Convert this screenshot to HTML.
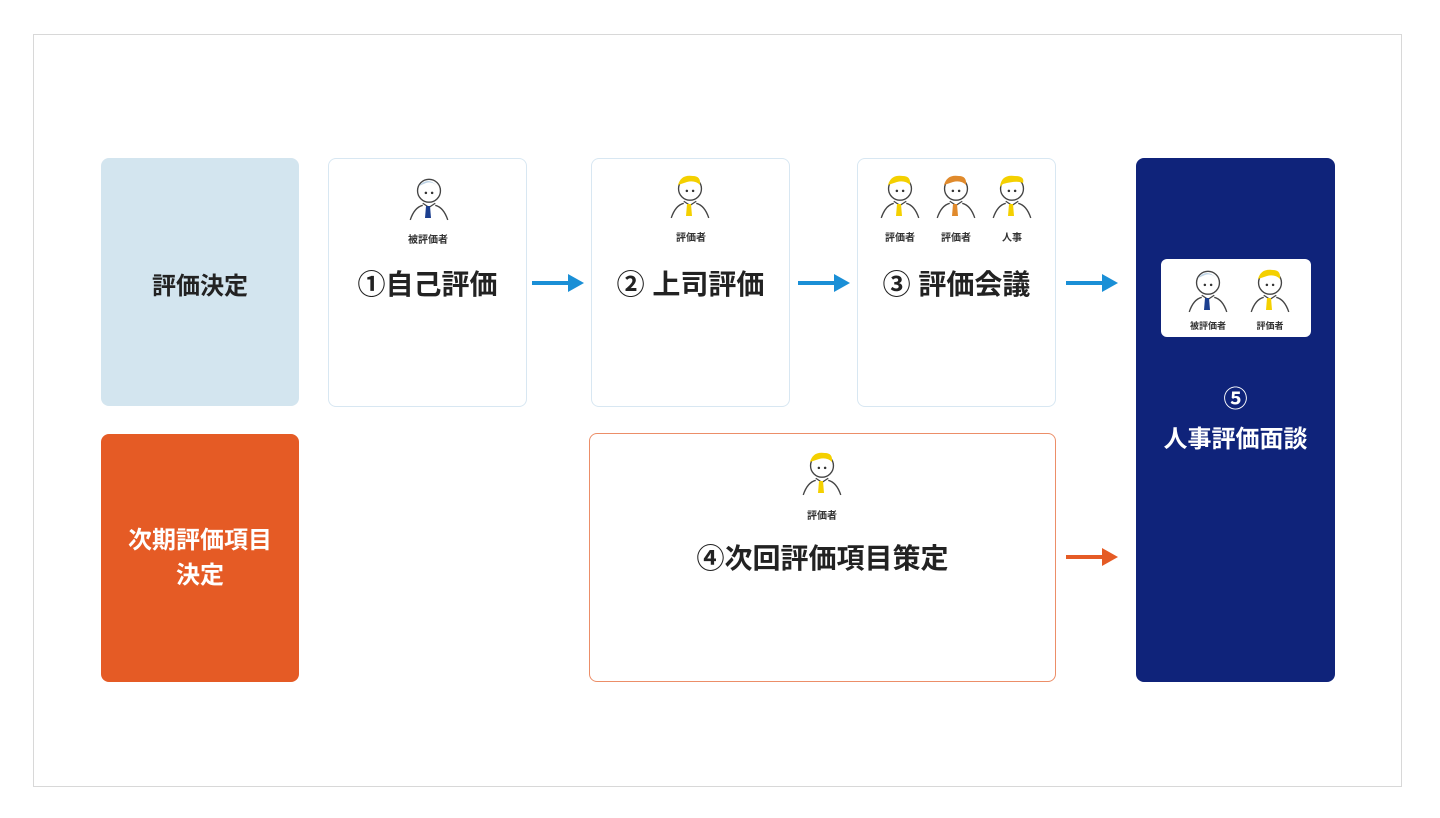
<!DOCTYPE html>
<html><head><meta charset="utf-8"><style>
body{margin:0;width:1440px;height:818px;background:#fff;position:relative;font-family:"Liberation Sans","Noto Sans CJK JP",sans-serif;overflow:hidden}
.a{position:absolute;box-sizing:border-box}
.frame{left:33px;top:34px;width:1369px;height:753px;border:1.5px solid #d8d8d8}
.box{border-radius:8px}
.wb{border:1.5px solid #d8e7f2;background:#fff}
.t{position:absolute;left:0;right:0;text-align:center;font-weight:bold;color:#222;font-size:28px}
.lbl{position:absolute;text-align:center;font-size:10px;font-weight:bold;color:#333;width:60px}
svg.p{position:absolute;width:46px;height:50px}
</style></head><body>
<svg width="0" height="0" style="position:absolute">
<defs>
<symbol id="man" viewBox="0 0 44 48">
<path d="M4 46 Q8 34 16 32 M40 46 Q36 34 28 32" fill="none" stroke="#444" stroke-width="1.3"/>
<circle cx="22" cy="18" r="11" fill="#fff" stroke="#444" stroke-width="1.3"/>
<circle cx="19" cy="20" r="1.2" fill="#333"/><circle cx="25" cy="20" r="1.2" fill="#333"/>
<path d="M16 30 L22 34 L28 30" fill="none" stroke="#444" stroke-width="1.2"/>
</symbol>
</defs></svg>
<div class="a frame"></div>

<div class="a box" style="left:101px;top:158px;width:198px;height:248px;background:#d3e5ef"><div class="t" style="top:108px;font-size:24px">評価決定</div></div>
<div class="a box" style="left:101px;top:434px;width:198px;height:248px;background:#e55b25"><div class="t" style="top:89px;font-size:24px;color:#fff;line-height:35px">次期評価項目<br>決定</div></div>

<div class="a box wb" style="left:328px;top:158px;width:199px;height:249px"><div class="t" style="top:104px">①自己評価</div>
<svg class="p" style="left:77px;top:13px"><use href="#man"/><path d="M13 14 Q22 4 31 14 Q26 9 20 11 Z" fill="#bcd3e6"/><path d="M20 34 L24 34 L25 46 L19 46 Z" fill="#1c3f8f"/></svg>
<div class="lbl" style="left:69px;top:72px">被評価者</div></div>

<div class="a box wb" style="left:591px;top:158px;width:199px;height:249px"><div class="t" style="top:104px">② 上司評価</div>
<svg class="p" style="left:75px;top:11px"><use href="#man"/><path d="M11 15 Q14 4 26 6 Q34 6 33 15 Q28 10 20 12 Z" fill="#f4d000"/><path d="M20 34 L24 34 L25 46 L19 46 Z" fill="#f4d000"/></svg>
<div class="lbl" style="left:69px;top:70px">評価者</div></div>

<div class="a box wb" style="left:857px;top:158px;width:199px;height:249px"><div class="t" style="top:104px">③ 評価会議</div>
<svg class="p" style="left:19px;top:11px"><use href="#man"/><path d="M11 15 Q14 4 26 6 Q34 6 33 15 Q28 10 20 12 Z" fill="#f4d000"/><path d="M20 34 L24 34 L25 46 L19 46 Z" fill="#f4d000"/></svg>
<svg class="p" style="left:75px;top:11px"><use href="#man"/><path d="M11 15 Q14 4 26 6 Q34 6 33 15 Q28 10 20 12 Z" fill="#e08a2c"/><path d="M20 34 L24 34 L25 46 L19 46 Z" fill="#e08a2c"/></svg>
<svg class="p" style="left:131px;top:11px"><use href="#man"/><path d="M11 17 Q12 4 26 6 Q36 6 34 13 Q28 10 14 14 Z" fill="#f4d000"/><path d="M20 34 L24 34 L25 46 L19 46 Z" fill="#f4d000"/></svg>
<div class="lbl" style="left:12px;top:70px">評価者</div><div class="lbl" style="left:68px;top:70px">評価者</div><div class="lbl" style="left:124px;top:70px">人事</div></div>

<div class="a box" style="left:589px;top:433px;width:467px;height:249px;border:1.5px solid #ec8e68;background:#fff"><div class="t" style="top:103px">④次回評価項目策定</div>
<svg class="p" style="left:209px;top:13px"><use href="#man"/><path d="M11 15 Q14 4 26 6 Q34 6 33 15 Q28 10 20 12 Z" fill="#f4d000"/><path d="M20 34 L24 34 L25 46 L19 46 Z" fill="#f4d000"/></svg>
<div class="lbl" style="left:202px;top:73px">評価者</div></div>

<div class="a box" style="left:1136px;top:158px;width:199px;height:524px;background:#0f237a">
<div class="a" style="left:25px;top:101px;width:150px;height:78px;background:#fff;border-radius:6px">
<svg class="p" style="left:24px;top:5px"><use href="#man"/><path d="M13 14 Q22 4 31 14 Q26 9 20 11 Z" fill="#bcd3e6"/><path d="M20 34 L24 34 L25 46 L19 46 Z" fill="#1c3f8f"/></svg>
<svg class="p" style="left:86px;top:5px"><use href="#man"/><path d="M11 15 Q14 4 26 6 Q34 6 33 15 Q28 10 20 12 Z" fill="#f4d000"/><path d="M20 34 L24 34 L25 46 L19 46 Z" fill="#f4d000"/></svg>
<div class="lbl" style="left:17px;top:60px;font-size:9px">被評価者</div><div class="lbl" style="left:79px;top:60px;font-size:9px">評価者</div></div>
<div class="t" style="top:222px;color:#fff;font-size:24px;line-height:40px">⑤<br>人事評価面談</div></div>

<svg class="a" style="left:0;top:0" width="1440" height="818">
<g fill="#1a8fd6"><rect x="532" y="281" width="38" height="4"/><path d="M568 274 L584 283 L568 292Z"/>
<rect x="798" y="281" width="38" height="4"/><path d="M834 274 L850 283 L834 292Z"/>
<rect x="1066" y="281" width="38" height="4"/><path d="M1102 274 L1118 283 L1102 292Z"/></g>
<g fill="#e55b25"><rect x="1066" y="555" width="38" height="4"/><path d="M1102 548 L1118 557 L1102 566Z"/></g>
</svg>
</body></html>
